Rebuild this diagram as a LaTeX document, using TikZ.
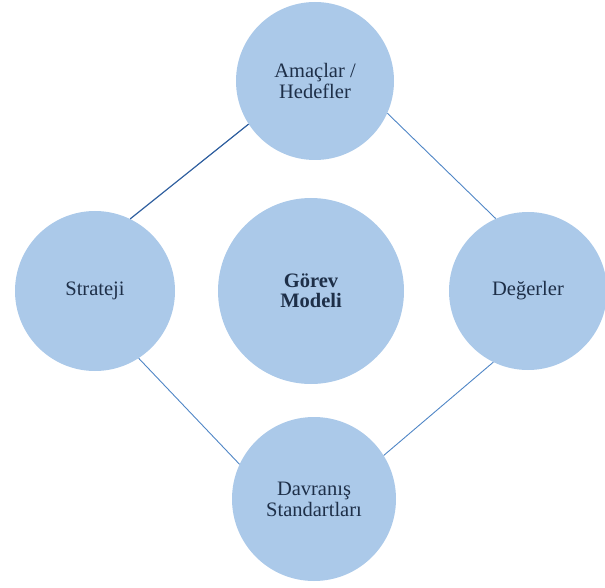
\documentclass[tikz,border=0pt]{standalone}
\usepackage{fontspec}
\setmainfont{Liberation Serif}
\definecolor{circfill}{HTML}{ABC9E9}
\definecolor{linkblue}{HTML}{4F86C6}
\definecolor{linkdark}{HTML}{2F5F9F}
\definecolor{txt}{HTML}{1E2F48}
\begin{document}
\begin{tikzpicture}[x=1pt,y=-1pt,
  bubble/.style={circle,fill=circfill,draw=none,inner sep=0pt,text=txt,align=center,
    font=\fontsize{20.5}{21}\selectfont},
  link/.style={draw=linkblue,line width=0.9pt}]
\useasboundingbox (0,0) rectangle (605,588);
\node[bubble,minimum size=158pt] (top) at (315,81) {Amaçlar /\\Hedefler};
\node[bubble,minimum size=160pt] (left) at (95,291) {Strateji};
\node[bubble,minimum size=186pt,font=\bfseries\fontsize{20.5}{20}\selectfont] (mid) at (311,291) {Görev\\Modeli};
\node[bubble,minimum size=158pt] (right) at (528,291) {Değerler};
\node[bubble,minimum size=164pt] (bot) at (314,499) {Davranış\\Standartları};
\draw[link,draw=linkdark,line width=1.2pt] (top.213) -- (left.64);
\draw[link] (top.336) -- (right.114);
\draw[link] (left.303) -- (bot.155);
\draw[link] (right.244) -- (bot.32);
\end{tikzpicture}
\end{document}
